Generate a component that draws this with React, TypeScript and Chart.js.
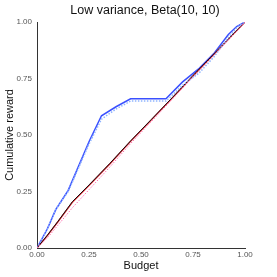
import React, { useEffect, useRef } from "react";
import { Chart, registerables } from "chart.js";

Chart.register(...registerables);

const budgetBlue = [0, 0.05, 0.09, 0.15, 0.25, 0.31, 0.38, 0.45, 0.62, 0.7, 0.78, 0.85, 0.92, 0.96, 1.0];
const blueSolid = [0, 0.085, 0.17, 0.255, 0.47, 0.585, 0.625, 0.66, 0.66, 0.735, 0.795, 0.86, 0.945, 0.98, 1.0];
const blueDotted = [0, 0.085, 0.17, 0.25, 0.46, 0.57, 0.615, 0.65, 0.65, 0.72, 0.775, 0.845, 0.93, 0.975, 1.0];

const budgetRed = [0, 0.05, 0.1, 0.17, 0.25, 0.35, 0.45, 0.55, 0.65, 0.75, 0.85, 0.95, 1.0];
const blackSolid = [0, 0.057, 0.117, 0.205, 0.279, 0.374, 0.474, 0.569, 0.665, 0.763, 0.858, 0.953, 1.0];
const redSolid = [0, 0.055, 0.115, 0.202, 0.276, 0.372, 0.472, 0.567, 0.663, 0.761, 0.856, 0.952, 1.0];
const pinkDotted = [0, 0.045, 0.1, 0.178, 0.258, 0.358, 0.462, 0.56, 0.658, 0.758, 0.854, 0.95, 1.0];

const xTicks = [0, 0.25, 0.5, 0.75, 1.0];
const yTicks = [0, 0.25, 0.5, 0.75, 1.0];

const titleText = "Low variance, Beta(10, 10)";
const xTitle = "Budget";
const yTitle = "Cumulative reward";

const pts = (xs: number[], ys: number[]) => xs.map((x, i) => ({ x, y: ys[i] }));

const FONT = "'Liberation Sans', Arial, sans-serif";

const titlePlugin = {
  id: "customTitle",
  afterDraw(chart: any) {
    const ctx = chart.ctx;
    ctx.save();
    ctx.font = `12.5px ${FONT}`;
    ctx.fillStyle = "#111";
    ctx.textAlign = "center";
    ctx.textBaseline = "middle";
    ctx.fillText(titleText, 145, 11);
    ctx.restore();
  },
};

export default function App() {
  const ref = useRef<HTMLCanvasElement | null>(null);
  useEffect(() => {
    if (!ref.current) return;
    const chart = new Chart(ref.current, {
      type: "line",
      data: {
        datasets: [
          { data: pts(budgetRed, pinkDotted), borderColor: "#ff6fb0", borderWidth: 1, borderDash: [1.5, 1.5] },
          { data: pts(budgetBlue, blueDotted), borderColor: "#8fb4ff", borderWidth: 1.5, borderDash: [1.5, 1.5] },
          { data: pts(budgetRed, blackSolid), borderColor: "#111111", borderWidth: 1 },
          { data: pts(budgetRed, redSolid), borderColor: "#e0202a", borderWidth: 1.3 },
          { data: pts(budgetBlue, blueSolid), borderColor: "#3a50ff", borderWidth: 1.5 },
        ].map((d) => ({ ...d, pointRadius: 0, tension: 0, fill: false })),
      },
      plugins: [titlePlugin],
      options: {
        animation: false,
        responsive: false,
        maintainAspectRatio: false,
        layout: { padding: { left: 0, right: 32, top: 22, bottom: 4 } },
        plugins: {
          legend: { display: false },
          tooltip: { enabled: false },
          title: { display: false },
        },
        scales: {
          x: {
            type: "linear",
            min: 0,
            max: 1,
            afterBuildTicks: (s: any) => {
              s.ticks = xTicks.map((v) => ({ value: v }));
            },
            afterFit: (s: any) => {
              s.height = 25;
            },
            grid: { display: false, drawOnChartArea: false, drawTicks: true, tickLength: 2, tickColor: "#333" },
            border: { display: true, color: "#333", width: 1 },
            ticks: {
              color: "#555",
              font: { family: FONT, size: 8 },
              padding: 0,
              maxRotation: 0,
              callback: (v: any) => Number(v).toFixed(2),
            },
            title: {
              display: true,
              text: xTitle,
              color: "#111",
              font: { family: FONT, size: 11 },
              padding: { top: 0, bottom: 0 },
            },
          },
          y: {
            type: "linear",
            min: 0,
            max: 1,
            afterBuildTicks: (s: any) => {
              s.ticks = yTicks.map((v) => ({ value: v }));
            },
            afterFit: (s: any) => {
              s.width = 37;
            },
            grid: { display: false, drawOnChartArea: false, drawTicks: true, tickLength: 3, tickColor: "#333" },
            border: { display: true, color: "#333", width: 1 },
            ticks: {
              color: "#555",
              font: { family: FONT, size: 8 },
              padding: 2,
              callback: (v: any) => Number(v).toFixed(2),
            },
            title: {
              display: true,
              text: yTitle,
              color: "#111",
              font: { family: FONT, size: 11 },
              padding: { top: 3, bottom: 0 },
            },
          },
        },
      },
    } as any);
    return () => chart.destroy();
  }, []);
  return (
    <div style={{ position: "fixed", left: 0, top: 0, width: 277, height: 277, background: "#fff" }}>
      <canvas ref={ref} width={277} height={277} style={{ width: 277, height: 277 }} />
    </div>
  );
}
